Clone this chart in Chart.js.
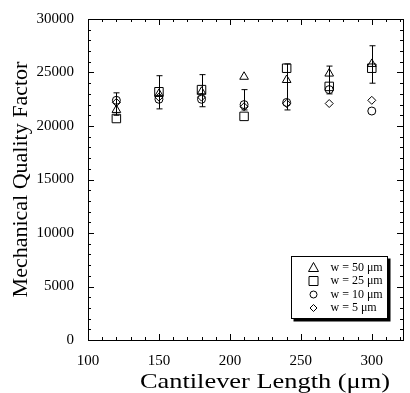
<!DOCTYPE html>
<html>
<head>
<meta charset="UTF-8">
<script src="https://cdn.jsdelivr.net/npm/chart.js"></script>
<style>
body{margin:0;background:#fff}
#wrap{width:410px;height:393px}
</style>
</head>
<body>
<div id="wrap"><canvas id="c"></canvas></div>
<script>
// cantilever lengths (um)
var lengths = [120, 150, 180, 210, 240, 270, 300];
// mechanical quality factor per width
var q50 = [21500, 23000, 23200, 24600, 24300, 24900, 25800];
var q25 = [20700, 23200, 23400, 20900, 25400, 23700, 25400];
var q10 = [22400, 22500, 22500, 22000, 22200, 23400, 21400];
var q5  = [22200, 22700, 22700, 21800, 22100, 22100, 22400];
// error bar extents at each length
var errTop    = [23100, 24700, 24800, 23400, 25800, 25600, 27500];
var errBottom = [21000, 21600, 21800, 21500, 21500, 23000, 24000];
var legendLabels = ['w = 50 \u03bcm', 'w = 25 \u03bcm', 'w = 10 \u03bcm', 'w = 5 \u03bcm'];
var xTicks = [100, 150, 200, 250, 300];
var yTicks = [0, 5000, 10000, 15000, 20000, 25000, 30000];
var xTitle = 'Cantilever Length (\u03bcm)';

var serif = "'Liberation Serif', 'Times New Roman', serif";

function pts(ys) {
    return lengths.map(function (x, i) { return {x: x, y: ys[i]}; });
}

var styles = ['triangle', 'rect', 'circle', 'rectRot'];
var radii = [5, 6, 4, 4];
var series = [q50, q25, q10, q5];

var datasets = series.map(function (s, i) {
    return {
        label: legendLabels[i],
        data: pts(s),
        pointStyle: styles[i],
        pointRadius: radii[i],
        pointBorderColor: '#000',
        pointBackgroundColor: 'rgba(255,255,255,0)',
        pointBorderWidth: 1,
        showLine: false
    };
});

var extras = {
    id: 'extras',
    beforeDatasetsDraw: function (chart) {
        var ctx = chart.ctx, xs = chart.scales.x, ys = chart.scales.y;
        ctx.save();
        ctx.strokeStyle = '#000';
        ctx.lineWidth = 1;
        for (var i = 0; i < lengths.length; i++) {
            var px = Math.round(xs.getPixelForValue(lengths[i])) + 0.5;
            var t = ys.getPixelForValue(errTop[i]);
            var b = ys.getPixelForValue(errBottom[i]);
            ctx.beginPath();
            ctx.moveTo(px, t); ctx.lineTo(px, b);
            ctx.moveTo(px - 3, t); ctx.lineTo(px + 3, t);
            ctx.moveTo(px - 3, b); ctx.lineTo(px + 3, b);
            ctx.stroke();
        }
        ctx.restore();
    },
    afterDraw: function (chart) {
        var ctx = chart.ctx, a = chart.chartArea, xs = chart.scales.x, ys = chart.scales.y;
        ctx.save();
        ctx.strokeStyle = '#000';
        ctx.lineWidth = 1;
        // frame
        ctx.strokeRect(Math.round(a.left) + 0.5, Math.round(a.top) + 0.5,
            Math.round(a.right - a.left), Math.round(a.bottom - a.top));
        // ticks, inward, all four sides
        ctx.beginPath();
        for (var v = 100; v <= 320; v += 10) {
            var px = Math.round(xs.getPixelForValue(v)) + 0.5;
            var len = (v % 50 === 0) ? 6 : 3;
            ctx.moveTo(px, a.bottom); ctx.lineTo(px, a.bottom - len);
            ctx.moveTo(px, a.top); ctx.lineTo(px, a.top + len);
        }
        for (var w = 0; w <= 30000; w += 1000) {
            var py = Math.round(ys.getPixelForValue(w)) + 0.5;
            var l2 = (w % 5000 === 0) ? 6 : 3;
            ctx.moveTo(a.left, py); ctx.lineTo(a.left + l2, py);
            ctx.moveTo(a.right, py); ctx.lineTo(a.right - l2, py);
        }
        ctx.stroke();

        // x axis title, slightly stretched like the scanned original
        ctx.save();
        ctx.fillStyle = '#000';
        ctx.font = '22px ' + serif;
        ctx.textAlign = 'center';
        ctx.textBaseline = 'alphabetic';
        ctx.translate(265, 388);
        ctx.scale(1.2, 1);
        ctx.fillText(xTitle, 0, 0);
        ctx.restore();

        // legend box with drop shadow
        var bw = 96, bh = 62;
        var bx = Math.round(a.right - 112) + 0.5, by = Math.round(a.bottom - 84) + 0.5;
        ctx.fillStyle = '#000';
        ctx.fillRect(bx + 2, by + 2, bw + 1, bh + 1);
        ctx.fillStyle = '#fff';
        ctx.fillRect(bx, by, bw, bh);
        ctx.strokeRect(bx, by, bw, bh);
        ctx.font = '12px ' + serif;
        ctx.textBaseline = 'middle';
        for (var k = 0; k < legendLabels.length; k++) {
            var cy = by + 11 + k * 13.5;
            var cx = bx + 22;
            ctx.beginPath();
            if (k === 0) {
                ctx.moveTo(cx, cy - 5); ctx.lineTo(cx + 5, cy + 4); ctx.lineTo(cx - 5, cy + 4); ctx.closePath();
            } else if (k === 1) {
                ctx.rect(cx - 4.5, cy - 4.5, 9, 9);
            } else if (k === 2) {
                ctx.arc(cx, cy, 3.5, 0, Math.PI * 2);
            } else {
                ctx.moveTo(cx, cy - 3.5); ctx.lineTo(cx + 3.5, cy); ctx.lineTo(cx, cy + 3.5); ctx.lineTo(cx - 3.5, cy); ctx.closePath();
            }
            ctx.stroke();
            ctx.fillStyle = '#000';
            ctx.fillText(legendLabels[k], bx + 39, cy);
        }
        ctx.restore();
    }
};

new Chart(document.getElementById('c'), {
    type: 'scatter',
    data: {datasets: datasets},
    options: {
        responsive: true,
        maintainAspectRatio: false,
        animation: false,
        layout: {padding: {top: 19, right: 5, left: 0, bottom: 0}},
        plugins: {legend: {display: false}, tooltip: {enabled: false}},
        scales: {
            x: {
                type: 'linear', min: 100, max: 322,
                grid: {display: false},
                border: {display: false},
                ticks: {
                    padding: 4, color: '#000', maxRotation: 0, autoSkip: false,
                    font: {family: serif, size: 15}
                },
                afterBuildTicks: function (s) { s.ticks = xTicks.map(function (v) { return {value: v}; }); },
                afterFit: function (s) { s.height = 53; }
            },
            y: {
                type: 'linear', min: 0, max: 30000,
                grid: {display: false},
                border: {display: false},
                ticks: {
                    padding: 6, color: '#000', autoSkip: false,
                    font: {family: serif, size: 15},
                    callback: function (v) { return String(v); }
                },
                afterBuildTicks: function (s) { s.ticks = yTicks.map(function (v) { return {value: v}; }); },
                title: {display: true, text: 'Mechanical Quality Factor', color: '#000',
                    font: {family: serif, size: 22}, padding: {top: 8, bottom: 0}},
                afterFit: function (s) { s.width = 88; }
            }
        }
    },
    plugins: [extras]
});
</script>
</body>
</html>
